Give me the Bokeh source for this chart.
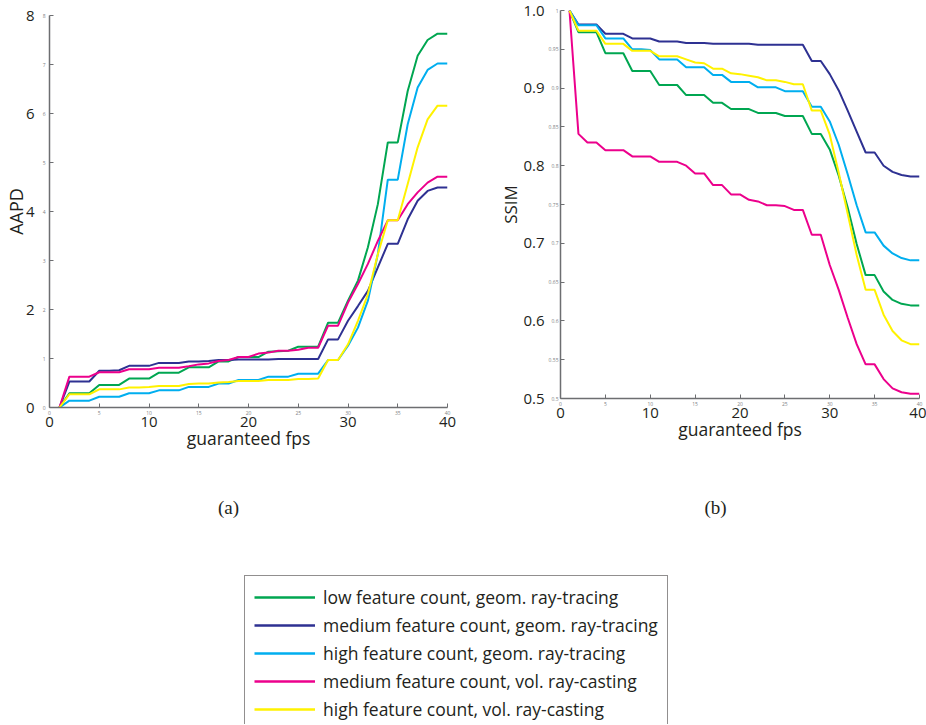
from bokeh.plotting import figure
from bokeh.models import (LinearAxis, FixedTicker, Range1d, Legend, LegendItem, Label,
                          NumeralTickFormatter)
from bokeh.layouts import column, row
from bokeh.embed import file_html
from bokeh.resources import INLINE

# ---------------- data ----------------
fps = list(range(1, 41))

series_names = [
    "low feature count, geom. ray-tracing",
    "medium feature count, geom. ray-tracing",
    "high feature count, geom. ray-tracing",
    "medium feature count, vol. ray-casting",
    "high feature count, vol. ray-casting",
]
series_colors = ["#00a651", "#2e3192", "#00aeef", "#ec008c", "#fff200"]

aapd_low_geom = [0, 0.29, 0.29, 0.29, 0.46, 0.46, 0.46, 0.59, 0.59, 0.59,
                 0.71, 0.71, 0.71, 0.82, 0.82, 0.82, 0.94, 0.94, 1.03, 1.03,
                 1.03, 1.14, 1.15, 1.16, 1.24, 1.24, 1.24, 1.73, 1.73, 2.18,
                 2.59, 3.27, 4.15, 5.41, 5.41, 6.46, 7.18, 7.50, 7.63, 7.63]
aapd_med_geom = [0, 0.53, 0.53, 0.53, 0.75, 0.75, 0.76, 0.85, 0.85, 0.85,
                 0.91, 0.91, 0.91, 0.94, 0.94, 0.95, 0.97, 0.97, 0.98, 0.98,
                 0.98, 0.98, 0.99, 0.99, 0.99, 0.99, 0.99, 1.39, 1.39, 1.77,
                 2.07, 2.38, 2.86, 3.34, 3.34, 3.84, 4.22, 4.42, 4.49, 4.49]
aapd_high_geom = [0, 0.14, 0.14, 0.14, 0.22, 0.22, 0.22, 0.29, 0.29, 0.29,
                  0.35, 0.35, 0.35, 0.42, 0.42, 0.42, 0.49, 0.49, 0.56, 0.56,
                  0.56, 0.63, 0.63, 0.63, 0.69, 0.69, 0.69, 0.97, 0.97, 1.26,
                  1.63, 2.18, 3.13, 4.65, 4.65, 5.78, 6.53, 6.89, 7.02, 7.02]
aapd_med_vol = [0, 0.63, 0.63, 0.63, 0.72, 0.72, 0.72, 0.78, 0.78, 0.78,
                0.81, 0.81, 0.81, 0.84, 0.88, 0.90, 0.95, 0.97, 1.03, 1.03,
                1.10, 1.12, 1.16, 1.16, 1.18, 1.22, 1.22, 1.67, 1.67, 2.14,
                2.52, 2.93, 3.40, 3.82, 3.82, 4.15, 4.39, 4.59, 4.71, 4.71]
aapd_high_vol = [0, 0.27, 0.27, 0.27, 0.37, 0.37, 0.37, 0.41, 0.41, 0.42,
                 0.44, 0.44, 0.44, 0.48, 0.49, 0.49, 0.51, 0.52, 0.54, 0.54,
                 0.54, 0.56, 0.56, 0.56, 0.58, 0.58, 0.59, 0.97, 0.97, 1.29,
                 1.77, 2.31, 3.13, 3.82, 3.82, 4.56, 5.31, 5.88, 6.16, 6.16]

ssim_low_geom = [1.0, 0.972, 0.972, 0.972, 0.945, 0.945, 0.945, 0.922, 0.922, 0.922,
                 0.904, 0.904, 0.904, 0.891, 0.891, 0.891, 0.881, 0.881, 0.873, 0.873,
                 0.873, 0.868, 0.868, 0.868, 0.864, 0.864, 0.864, 0.841, 0.841, 0.821,
                 0.787, 0.746, 0.699, 0.659, 0.659, 0.638, 0.627, 0.622, 0.620, 0.620]
ssim_med_geom = [1.0, 0.982, 0.982, 0.982, 0.970, 0.970, 0.970, 0.964, 0.964, 0.964,
                 0.960, 0.960, 0.960, 0.958, 0.958, 0.958, 0.957, 0.957, 0.957, 0.957,
                 0.957, 0.956, 0.956, 0.956, 0.956, 0.956, 0.956, 0.935, 0.935, 0.918,
                 0.897, 0.871, 0.844, 0.817, 0.817, 0.800, 0.792, 0.788, 0.786, 0.786]
ssim_high_geom = [1.0, 0.981, 0.981, 0.981, 0.964, 0.964, 0.964, 0.950, 0.950, 0.949,
                  0.937, 0.937, 0.937, 0.927, 0.927, 0.927, 0.917, 0.917, 0.908, 0.908,
                  0.908, 0.901, 0.901, 0.901, 0.896, 0.896, 0.896, 0.876, 0.876, 0.857,
                  0.827, 0.789, 0.749, 0.714, 0.714, 0.697, 0.687, 0.681, 0.678, 0.678]
ssim_med_vol = [1.0, 0.841, 0.830, 0.830, 0.820, 0.820, 0.820, 0.812, 0.812, 0.812,
                0.805, 0.805, 0.805, 0.800, 0.790, 0.790, 0.775, 0.775, 0.763, 0.763,
                0.756, 0.754, 0.749, 0.749, 0.748, 0.743, 0.743, 0.711, 0.711, 0.672,
                0.640, 0.604, 0.570, 0.544, 0.544, 0.525, 0.513, 0.508, 0.506, 0.506]
ssim_high_vol = [1.0, 0.974, 0.974, 0.974, 0.957, 0.957, 0.957, 0.948, 0.948, 0.948,
                 0.941, 0.941, 0.941, 0.937, 0.933, 0.932, 0.925, 0.925, 0.919, 0.918,
                 0.916, 0.914, 0.910, 0.910, 0.908, 0.905, 0.905, 0.871, 0.871, 0.840,
                 0.791, 0.738, 0.685, 0.640, 0.640, 0.608, 0.587, 0.575, 0.570, 0.570]

aapd_series = [aapd_low_geom, aapd_med_geom, aapd_high_geom, aapd_med_vol, aapd_high_vol]
ssim_series = [ssim_low_geom, ssim_med_geom, ssim_high_geom, ssim_med_vol, ssim_high_vol]

x_small_ticks = [0, 5, 10, 15, 20, 25, 30, 35, 40]
x_big_ticks = [0, 10, 20, 30, 40]
aapd_small_ticks = [0, 1, 2, 3, 4, 5, 6, 7, 8]
aapd_big_ticks = [0, 2, 4, 6, 8]
ssim_small_ticks = [0.5, 0.55, 0.6, 0.65, 0.7, 0.75, 0.8, 0.85, 0.9, 0.95, 1.0]
ssim_big_ticks = [0.5, 0.6, 0.7, 0.8, 0.9, 1.0]

# ---------------- style ----------------
FONT = "Open Sans"
TXT = "#231f20"
AX = "#6d6e71"
SMALL = "#808285"


def add_axes(p, side, small, big, label, big_fmt=None, small_fmt=None,
             big_size="15px", label_size="17.5px", label_standoff=-4,
             small_standoff=3, big_standoff=-1):
    inner = LinearAxis(ticker=FixedTicker(ticks=small))
    inner.axis_line_color = AX
    inner.axis_line_width = 1.5
    inner.major_tick_line_color = AX
    inner.major_tick_in = 4
    inner.major_tick_out = 0
    inner.minor_tick_line_color = None
    inner.major_label_text_font = FONT
    inner.major_label_text_font_size = "5px"
    inner.major_label_text_color = SMALL
    inner.major_label_standoff = small_standoff
    if small_fmt:
        inner.formatter = small_fmt
    outer = LinearAxis(ticker=FixedTicker(ticks=big), axis_label=label)
    outer.axis_line_color = None
    outer.major_tick_line_color = None
    outer.major_tick_in = 0
    outer.major_tick_out = 0
    outer.minor_tick_line_color = None
    outer.major_label_text_font = FONT
    outer.major_label_text_font_size = big_size
    outer.major_label_text_color = TXT
    outer.major_label_standoff = big_standoff
    outer.axis_label_text_font = FONT
    outer.axis_label_text_font_size = label_size
    outer.axis_label_text_font_style = "normal"
    outer.axis_label_text_color = TXT
    outer.axis_label_standoff = label_standoff
    if big_fmt:
        outer.formatter = big_fmt
    p.add_layout(inner, side)
    p.add_layout(outer, side)


def base_fig(width, height, xr, yr, bl, br, bt, bb):
    p = figure(width=width, height=height, output_backend="svg", toolbar_location=None,
               x_range=xr, y_range=yr, x_axis_type=None, y_axis_type=None,
               min_border_left=bl, min_border_right=br, min_border_top=bt,
               min_border_bottom=bb)
    p.outline_line_color = None
    p.background_fill_color = "white"
    p.border_fill_color = "white"
    return p


# ---------------- plot (a) ----------------
p1 = base_fig(478, 463, Range1d(0, 40), Range1d(0, 8), 48, 31, 15, 56)
for ys, c in zip(aapd_series, series_colors):
    p1.line(fps, ys, line_color=c, line_width=2)
add_axes(p1, "left", aapd_small_ticks, aapd_big_ticks, "AAPD",
         label_size="18px", label_standoff=-5, small_standoff=4, big_standoff=5)
add_axes(p1, "below", x_small_ticks, x_big_ticks, "guaranteed fps")

# ---------------- plot (b) ----------------
p2 = base_fig(448, 463, Range1d(0, 40), Range1d(0.5, 1.0), 82, 7, 10, 65)
for ys, c in zip(ssim_series, series_colors):
    p2.line(fps, ys, line_color=c, line_width=2)
add_axes(p2, "left", ssim_small_ticks, ssim_big_ticks, "SSIM",
         big_fmt=NumeralTickFormatter(format="0.0"),
         small_fmt=NumeralTickFormatter(format="0.[00]"),
         label_size="17px", label_standoff=-2, small_standoff=2, big_standoff=1)
add_axes(p2, "below", x_small_ticks, x_big_ticks, "guaranteed fps")

# ---------------- captions + legend ----------------
p3 = base_fig(926, 261, Range1d(0, 926), Range1d(261, 0), 0, 0, 0, 0)
nan = float("nan")
items = []
for name, c in zip(series_names, series_colors):
    r = p3.line(x=[nan], y=[nan], line_color=c, line_width=2.5)
    items.append(LegendItem(label=name, renderers=[r]))
legend = Legend(items=items, location=(244, -7), orientation="vertical")
legend.border_line_color = TXT
legend.border_line_width = 1
legend.background_fill_color = "white"
legend.background_fill_alpha = 1
legend.label_text_font = FONT
legend.label_text_font_size = "17.5px"
legend.label_text_color = TXT
legend.glyph_width = 61
legend.glyph_height = 20
legend.label_height = 20
legend.spacing = 4
legend.padding = 9
legend.margin = 0
legend.label_standoff = 8
p3.add_layout(legend, "center")

for txt, xc in (("(a)", 228), ("(b)", 715)):
    p3.add_layout(Label(x=xc, y=44, text=txt, text_font="Liberation Serif",
                        text_font_size="19px", text_color=TXT,
                        text_align="center", text_baseline="middle"))

layout = column(row(column(p1), column(p2), spacing=0), p3, spacing=0)
open("out.html", "w").write(file_html(layout, INLINE))
